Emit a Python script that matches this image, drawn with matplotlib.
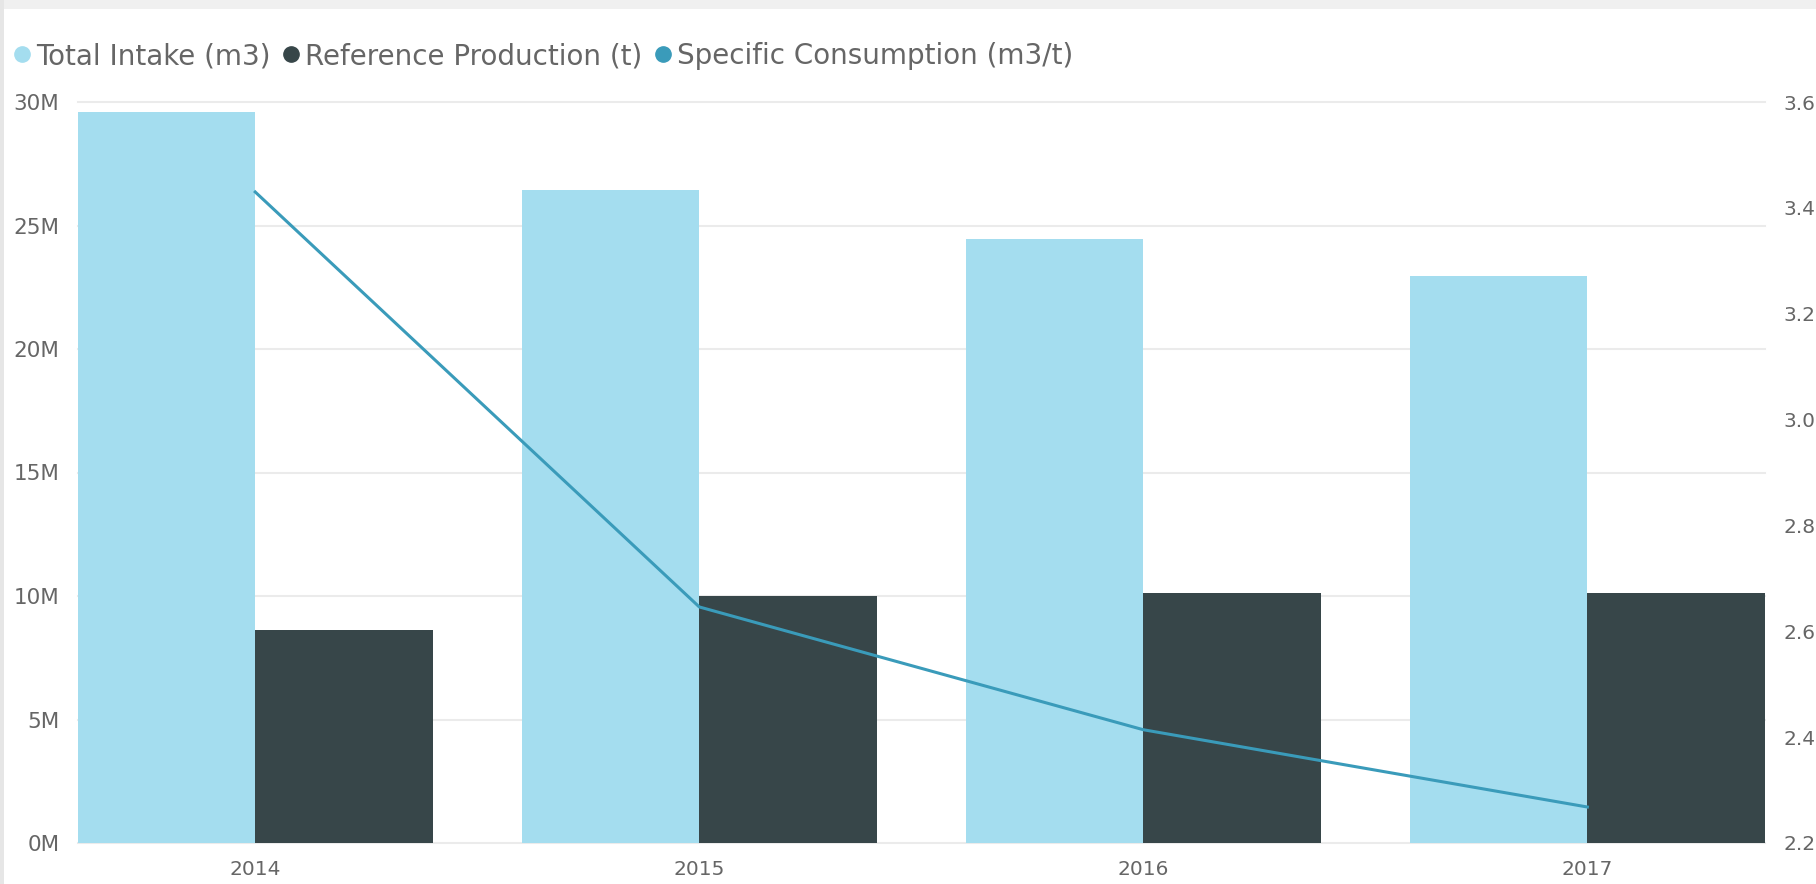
import matplotlib.pyplot as plt
from matplotlib.lines import Line2D
from matplotlib.patches import Rectangle
from matplotlib.ticker import FuncFormatter
import numpy as np

years = ['2014', '2015', '2016', '2017']
total_intake = [29.6e6, 26.44e6, 24.47e6, 22.97e6]      # m3
reference_production = [8.63e6, 9.99e6, 10.13e6, 10.13e6]  # t
specific_consumption = [3.43, 2.646, 2.414, 2.268]      # m3/t

c_intake = '#A4DDEF'
c_prod = '#374649'
c_spec = '#3A9BBA'
c_text = '#666666'
c_grid = '#EBEBEB'

plt.rcParams['font.family'] = 'DejaVu Sans'

fig = plt.figure(figsize=(18.16, 8.84), dpi=100)
fig.patch.set_facecolor('white')

# window chrome: grey strip on top, thin shadow on the left
fig.patches.append(Rectangle((0, 1 - 9 / 884), 1, 9 / 884, transform=fig.transFigure,
                             facecolor='#F0F0F0', edgecolor='none'))
fig.patches.append(Rectangle((0, 0), 4 / 1816, 1, transform=fig.transFigure,
                             facecolor='#E6E6E6', edgecolor='none'))

ax = fig.add_axes([77.6 / 1816, 41 / 884, (1765 - 77.6) / 1816, (843 - 102) / 884])
x = np.arange(len(years))
w = 0.4
ax.bar(x - w / 2, total_intake, w, color=c_intake, zorder=2)
ax.bar(x + w / 2, reference_production, w, color=c_prod, zorder=2)

ax.set_xlim(-0.4, len(years) - 0.6)
ax.set_ylim(0, 30e6)
ax.set_yticks(np.arange(0, 30e6 + 1, 5e6))
ax.yaxis.set_major_formatter(FuncFormatter(lambda v, p: f'{v / 1e6:.0f}M'))
ax.set_xticks(x)
ax.set_xticklabels(years)
ax.grid(axis='y', color=c_grid, linewidth=1.5)
for gl in ax.get_ygridlines():
    gl.set_clip_on(False)
ax.set_axisbelow(True)
for s in ax.spines.values():
    s.set_visible(False)
ax.tick_params(axis='y', length=0, pad=13, labelsize=15.5, labelcolor=c_text)
ax.tick_params(axis='x', length=0, pad=12, labelsize=14.5, labelcolor=c_text)

ax2 = ax.twinx()
ax2.plot(x, specific_consumption, color=c_spec, linewidth=2.2, zorder=3)
ax2.set_ylim(2.2, 3.6)
ax2.set_yticks(np.arange(2.2, 3.61, 0.2))
ax2.yaxis.set_major_formatter(FuncFormatter(lambda v, p: f'{v:.1f}'))
for s in ax2.spines.values():
    s.set_visible(False)
ax2.tick_params(axis='y', direction='in', length=6, width=1.2, color='#E2E2E2',
                pad=13, labelsize=14.5, labelcolor=c_text)
for t in ax2.yaxis.get_major_ticks():
    if t.get_loc() < 2.7 or t.get_loc() > 3.55:
        t.tick2line.set_visible(False)

handles = [Line2D([], [], marker='o', linestyle='', color=c, markersize=11)
           for c in (c_intake, c_prod, c_spec)]
labels = ['Total Intake (m3)', 'Reference Production (t)', 'Specific Consumption (m3/t)']
fig.legend(handles, labels, loc='center left', bbox_to_anchor=(0 / 1816, 1 - 56 / 884),
           ncol=3, frameon=False, fontsize=20, labelcolor=c_text,
           handlelength=0.6, handletextpad=0.2, columnspacing=0.45, borderpad=0)

fig.savefig('out.png', dpi=100)
